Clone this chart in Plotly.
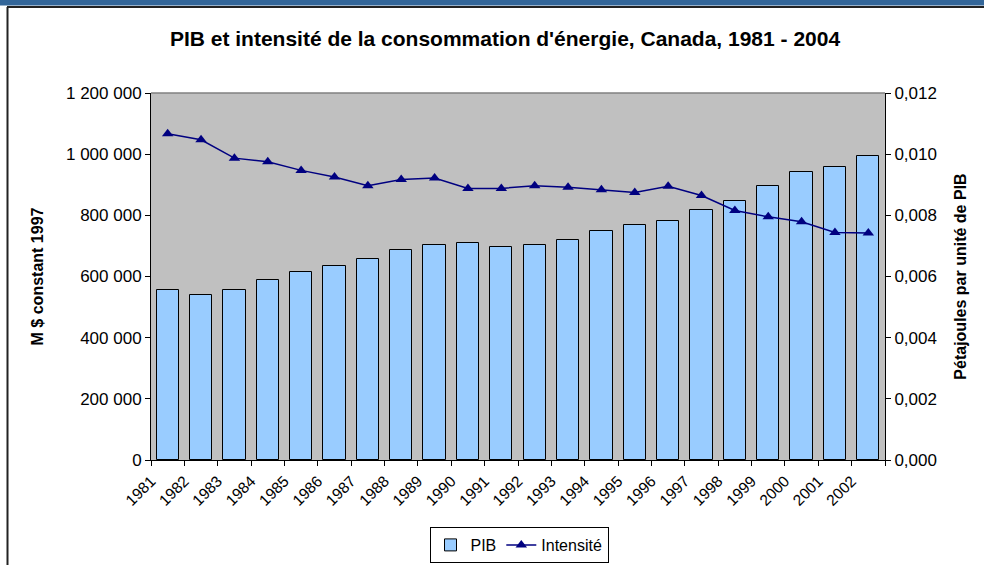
import plotly.graph_objects as go

years = [1981, 1982, 1983, 1984, 1985, 1986, 1987, 1988, 1989, 1990, 1991,
         1992, 1993, 1994, 1995, 1996, 1997, 1998, 1999, 2000, 2001, 2002]
pib = [557000, 541000, 557000, 587000, 615000, 633000, 657000, 686000, 704000,
       708000, 696000, 704000, 719000, 748000, 770000, 783000, 817000, 847000,
       896000, 942000, 959000, 993000]
intensite = [0.01067, 0.01047, 0.00987, 0.00975, 0.00947, 0.00925, 0.00897,
             0.00917, 0.00922, 0.00888, 0.00888, 0.00897, 0.00892, 0.00884,
             0.00875, 0.00895, 0.00865, 0.00816, 0.00795, 0.00779, 0.00744,
             0.00742]
left_ticks = [0, 200000, 400000, 600000, 800000, 1000000, 1200000]
right_ticks = [0, 0.002, 0.004, 0.006, 0.008, 0.010, 0.012]

FONT = "Liberation Sans, Arial, sans-serif"

# plot area in pixels
W, H = 984, 565
PL, PR, PT, PB = 151, 885, 93, 460


def px(x):
    return (x - PL) / (PR - PL)


def py(y):
    return (PB - y) / (PB - PT)


fig = go.Figure()
fig.add_trace(go.Bar(
    x=years, y=pib, name="PIB", width=0.67,
    marker=dict(color="#99CCFF", line=dict(color="#000000", width=1)),
))
fig.add_trace(go.Scatter(
    x=years, y=intensite, name="Intensité", yaxis="y2", mode="lines+markers",
    line=dict(color="#000080", width=1.5),
    marker=dict(symbol="triangle-up", size=10, color="#000080"),
))

tickvals = [y - 0.5 for y in years] + [years[-1] + 0.5]
ticktext = [str(y) for y in years] + [""]

fig.update_layout(
    template="none",
    width=W, height=H,
    margin=dict(l=PL, r=W - PR, t=PT, b=H - PB, autoexpand=False),
    paper_bgcolor="white", plot_bgcolor="#C0C0C0",
    separators=", ",
    font=dict(family=FONT, size=15, color="#000000"),
    title=dict(text="<b>PIB et intensité de la consommation d'énergie, Canada, 1981 - 2004</b>",
               x=px(505), xref="paper", xanchor="center",
               y=1 - 39 / H, yref="container", yanchor="middle",
               font=dict(family=FONT, size=21, color="#000000")),
    xaxis=dict(range=[years[0] - 0.5, years[-1] + 0.5], tickmode="array",
               tickvals=tickvals, ticktext=ticktext, tickangle=-45,
               automargin=False,
               showgrid=False, zeroline=False, showline=True, linecolor="#000000",
               linewidth=1, ticks="outside", ticklen=5, tickcolor="#000000",
               tickfont=dict(size=15.5)),
    yaxis=dict(range=[0, 1200000], tickmode="array", tickvals=left_ticks,
               tickformat=",.0f", showgrid=False, zeroline=False, showline=True,
               automargin=False,
               linecolor="#000000", linewidth=1, ticks="outside", ticklen=5,
               tickcolor="#000000", tickfont=dict(size=17),
               title=dict(text="<b>M $ constant 1997</b>", standoff=18,
                          font=dict(size=16))),
    yaxis2=dict(range=[0, 0.012], overlaying="y", side="right", tickmode="array",
                tickvals=right_ticks, tickformat=".3f", showgrid=False,
                automargin=False,
                zeroline=False, showline=True, linecolor="#000000", linewidth=1,
                ticks="outside", ticklen=5, tickcolor="#000000",
                tickfont=dict(size=17),
                title=dict(text="<b>Pétajoules par unité de PIB</b>", standoff=18,
                           font=dict(size=16))),
    showlegend=True,
    legend=dict(orientation="h", x=px(519), xanchor="center",
                yref="container", y=1 - 563 / H,
                yanchor="bottom", bgcolor="white", bordercolor="#000000",
                borderwidth=1, font=dict(size=16), traceorder="normal",
                itemwidth=30),
    bargap=0,
)

shapes = [
    # top blue band
    dict(type="rect", xref="paper", yref="paper", x0=px(0), x1=px(W),
         y0=py(0), y1=py(5.5), fillcolor="#336699", line=dict(width=0), layer="above"),
    # frame lines
    dict(type="line", xref="paper", yref="paper", x0=px(7), x1=px(W),
         y0=py(7), y1=py(7), line=dict(color="#222222", width=2)),
    dict(type="line", xref="paper", yref="paper", x0=px(7.5), x1=px(7.5),
         y0=py(7), y1=py(H), line=dict(color="#222222", width=2)),
    # plot area top border
    dict(type="line", xref="paper", yref="paper", x0=0, x1=1, y0=1, y1=1,
         line=dict(color="#808080", width=1.5)),
]
fig.update_layout(shapes=shapes)

fig.write_html("out.html", config={"displayModeBar": False},
               post_script="document.body.style.margin='0';document.body.style.overflow='hidden';")
